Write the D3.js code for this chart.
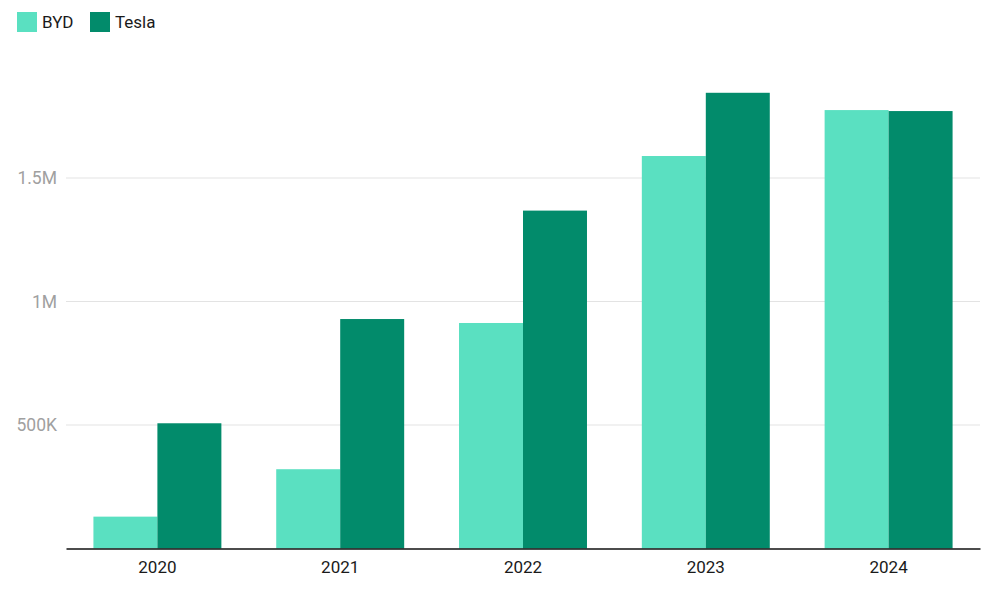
<!DOCTYPE html>
<html>
<head>
<meta charset="utf-8">
<script src="https://cdn.jsdelivr.net/npm/d3@7"></script>
<style>
  body { margin: 0; background: #fff; }
  svg { font-family: Roboto, "Noto Sans", sans-serif; }
</style>
</head>
<body>
<svg id="chart" width="1000" height="600"></svg>
<script>
const years = ["2020", "2021", "2022", "2023", "2024"];
const seriesNames = ["BYD", "Tesla"];
const bydValues = [129000, 321000, 913000, 1589000, 1775000];
const teslaValues = [507000, 929000, 1368000, 1845000, 1771000];
const yTicks = [500000, 1000000, 1500000];
const yTickLabels = ["500K", "1M", "1.5M"];
const colors = ["#5ae0c1", "#028b6b"];

const svg = d3.select("#chart");
const mLeft = 66, mRight = 980, mBottom = 548.5;

const data = years.map((yr, i) => ({ year: yr, BYD: bydValues[i], Tesla: teslaValues[i] }));

const x = d3.scaleBand().domain(years).range([mLeft, mRight]).paddingInner(0.3).paddingOuter(0.15);
const xs = d3.scaleBand().domain(seriesNames).range([0, x.bandwidth()]).padding(0);
const y = d3.scaleLinear().domain([0, 500000]).range([mBottom, mBottom - 123.5]);

// gridlines
svg.append("g").selectAll("line").data(yTicks).join("line")
  .attr("x1", mLeft).attr("x2", mRight)
  .attr("y1", d => y(d)).attr("y2", d => y(d))
  .attr("stroke", "#e3e3e3").attr("stroke-width", 1.2);

svg.append("g").selectAll("text").data(yTicks).join("text")
  .attr("x", 57).attr("y", d => y(d))
  .attr("dy", "0.35em").attr("text-anchor", "end")
  .attr("font-size", 17.5).attr("fill", "#a0a0a0")
  .text((d, i) => yTickLabels[i]);

// bars
const g = svg.append("g").selectAll("g").data(data).join("g")
  .attr("transform", d => `translate(${x(d.year)},0)`);
g.selectAll("rect").data(d => seriesNames.map(k => ({ key: k, value: d[k] }))).join("rect")
  .attr("x", d => xs(d.key))
  .attr("width", xs.bandwidth())
  .attr("y", d => y(d.value))
  .attr("height", d => mBottom - y(d.value))
  .attr("fill", (d, i) => colors[i]);

// x axis
const xAxis = d3.axisBottom(x).tickSize(0).tickPadding(12);
const ax = svg.append("g").attr("transform", `translate(0,${mBottom})`).call(xAxis);
ax.select(".domain").attr("stroke", "#111").attr("stroke-width", 1.5);
ax.selectAll("text").attr("font-size", 17).attr("fill", "#1a1a1a").attr("font-family", "Roboto, sans-serif");

// legend
const legendX = [17, 90];
const leg = svg.append("g").selectAll("g").data(seriesNames).join("g")
  .attr("transform", (d, i) => `translate(${legendX[i]},12)`);
leg.append("rect").attr("width", 20).attr("height", 20).attr("fill", (d, i) => colors[i]);
leg.append("text").attr("x", 25).attr("y", 10).attr("dy", "0.35em")
  .attr("font-size", 17).attr("fill", "#1a1a1a").text(d => d);
</script>
</body>
</html>
